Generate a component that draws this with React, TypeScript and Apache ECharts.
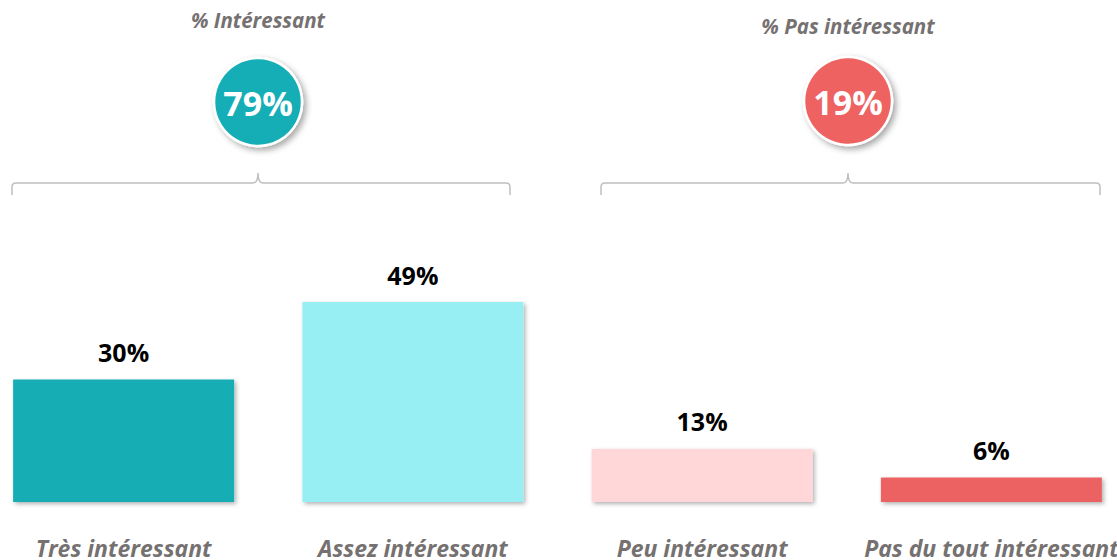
import React, { useEffect, useRef } from "react";
import * as echarts from "echarts";

const categories = ["Très intéressant", "Assez intéressant", "Peu intéressant", "Pas du tout intéressant"];
const values = [30, 49, 13, 6];
const barColors = ["#13ADB5", "#98EFF3", "#FFD7D8", "#EC6262"];
const groupTitles = ["% Intéressant", "% Pas intéressant"];
const groupTotals = ["79%", "19%"];
const groupColors = ["#13AEB6", "#EE6262"];

const FONT = '"Open Sans", "Noto Sans", sans-serif';
const OFFSET = 21; // chart div starts 21px left of the page edge

function bracketPath(x1: number, x2: number, peak: number, y: number, top: number, bottom: number) {
  const r = 4;
  x1 += OFFSET;
  x2 += OFFSET;
  peak += OFFSET;
  return `M${x1},${bottom} L${x1},${y + r} Q${x1},${y} ${x1 + r},${y} L${peak - 5},${y} Q${peak},${y} ${peak},${top} Q${peak},${y} ${peak + 5},${y} L${x2 - r},${y} Q${x2},${y} ${x2},${y + r} L${x2},${bottom}`;
}

echarts.graphic.registerShape("bracketL", echarts.graphic.extendPath(bracketPath(12, 510, 258, 183, 173, 195), {}) as any);
echarts.graphic.registerShape("bracketR", echarts.graphic.extendPath(bracketPath(601, 1100, 848, 183, 173, 195), {}) as any);

export default function App() {
  const ref = useRef<HTMLDivElement>(null);
  useEffect(() => {
    if (!ref.current) return;
    const chart = echarts.init(ref.current, null, { renderer: "svg" });
    const circleX = [258, 848];
    const circleY = [102, 101];
    const titleY = [20, 26];
    const graphics: any[] = [];
    for (let i = 0; i < 2; i++) {
      graphics.push({
        type: "text",
        x: circleX[i] + OFFSET,
        y: titleY[i],
        style: {
          text: groupTitles[i],
          font: `italic bold 20.5px ${FONT}`,
          fill: "#767171",
          align: "center",
          verticalAlign: "middle",
        },
      });
      graphics.push({
        type: "circle",
        shape: { cx: circleX[i] + OFFSET, cy: circleY[i], r: 44 },
        style: {
          fill: groupColors[i],
          stroke: "#ffffff",
          lineWidth: 2.5,
          shadowBlur: 6,
          shadowOffsetX: 3,
          shadowOffsetY: 3,
          shadowColor: "rgba(0,0,0,0.35)",
        },
      });
      graphics.push({
        type: "text",
        x: circleX[i] + OFFSET,
        y: circleY[i] + 1,
        style: {
          text: groupTotals[i],
          font: `bold 34px ${FONT}`,
          fill: "#ffffff",
          align: "center",
          verticalAlign: "middle",
        },
      });
    }
    graphics.push({
      type: "bracketL",
      x: 0,
      y: 0,
      style: { fill: "none", stroke: "#BFBFBF", lineWidth: 1.5 },
    });
    graphics.push({
      type: "bracketR",
      x: 0,
      y: 0,
      style: { fill: "none", stroke: "#BFBFBF", lineWidth: 1.5 },
    });

    chart.setOption({
      animation: false,
      grid: { left: 0, right: 0, top: 94, bottom: 58, containLabel: false },
      xAxis: {
        type: "category",
        data: categories,
        axisLine: { show: false },
        axisTick: { show: false },
        axisLabel: {
          interval: 0,
          hideOverlap: false,
          color: "#767171",
          fontFamily: FONT,
          fontStyle: "italic",
          fontWeight: "bold",
          fontSize: 23,
          margin: 34,
        },
      },
      yAxis: { type: "value", min: 0, max: 100, show: false, splitLine: { show: false } },
      series: [
        {
          type: "bar",
          barWidth: 221,
          data: values.map((v, i) => ({
            value: v,
            itemStyle: {
              color: barColors[i],
              shadowBlur: 4,
              shadowOffsetX: 2,
              shadowOffsetY: 2,
              shadowColor: "rgba(0,0,0,0.3)",
            },
          })),
          label: {
            show: true,
            position: "top",
            distance: 15,
            formatter: "{c}%",
            color: "#000000",
            fontFamily: FONT,
            fontWeight: "bold",
            fontSize: 25,
          },
        },
      ],
      graphic: graphics,
    });
    return () => chart.dispose();
  }, []);
  return (
    <div
      ref={ref}
      style={{ position: "fixed", left: -OFFSET, top: 0, width: 1157, height: 560, background: "#fff" }}
    />
  );
}
